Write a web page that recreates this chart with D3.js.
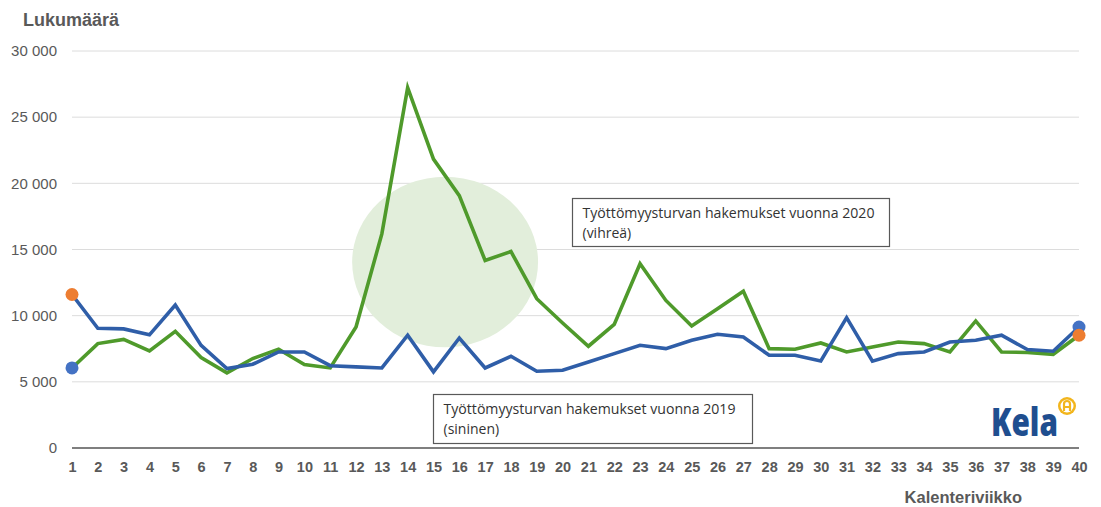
<!DOCTYPE html>
<html>
<head>
<meta charset="utf-8">
<script src="https://cdn.jsdelivr.net/npm/d3@7/dist/d3.min.js"></script>
<style>
  html, body { margin: 0; padding: 0; background: #fff; }
  svg { display: block; }
</style>
</head>
<body>
<svg id="chart" width="1101" height="507"></svg>
<script>
const weeks = d3.range(1, 41);
const values2019 = [11600, 9050, 9000, 8550, 10800, 7750, 6000, 6330, 7260, 7260,
  6220, 6130, 6050, 8520, 5750, 8310, 6050, 6930, 5800, 5880,
  6500, 7130, 7760, 7510, 8140, 8590, 8390, 7010, 7010, 6580,
  9850, 6560, 7130, 7260, 8010, 8140, 8520, 7440, 7310, 9140];
const values2020 = [6050, 7890, 8210, 7330, 8820, 6830, 5680, 6760, 7460, 6310,
  6050, 9140, 16180, 27230, 21830, 19070, 14170, 14850, 11280, 9450,
  7690, 9340, 13920, 11150, 9220, 10530, 11850, 7510, 7460, 7940,
  7260, 7640, 8010, 7890, 7260, 9600, 7260, 7220, 7080, 8520];
const yTicks = [0, 5000, 10000, 15000, 20000, 25000, 30000];
const yTitle = "Lukumäärä";
const xTitle = "Kalenteriviikko";
const note2020 = ["Työttömyysturvan hakemukset vuonna 2020", "(vihreä)"];
const note2019 = ["Työttömyysturvan hakemukset vuonna 2019", "(sininen)"];

const svg = d3.select("#chart");
const x = d3.scaleLinear().domain([1, 40]).range([72, 1079]);
const y = d3.scaleLinear().domain([0, 30000]).range([448, 51]);
const grey = "#595959";
const fmt = v => d3.format(",")(v).replace(/,/g, " ");

// gridlines
svg.append("g").selectAll("line").data(yTicks.filter(d => d > 0)).join("line")
  .attr("x1", x(1)).attr("x2", x(40))
  .attr("y1", d => y(d)).attr("y2", d => y(d))
  .attr("stroke", "#dcdcdc").attr("stroke-width", 1);

// highlight ellipse
svg.append("ellipse")
  .attr("cx", x(15.45)).attr("cy", y(14050))
  .attr("rx", x(1 + 3.6) - x(1)).attr("ry", y(0) - y(6440))
  .attr("fill", "#e2eedb");

// y axis labels
const yAxis = d3.axisLeft(y).tickValues(yTicks).tickFormat(fmt).tickSize(0).tickPadding(0);
const gy = svg.append("g").attr("transform", "translate(57,0)").call(yAxis);
gy.select(".domain").remove();
gy.selectAll("text").attr("font-family", "Liberation Sans, Arial, sans-serif")
  .attr("font-size", 15).attr("fill", grey);

// x axis
const xAxis = d3.axisBottom(x).tickValues(weeks).tickFormat(d3.format("d")).tickSize(0).tickPadding(0);
const gx = svg.append("g").attr("transform", "translate(0,462)").call(xAxis);
gx.select(".domain").remove();
gx.selectAll("text").attr("font-family", "Liberation Sans, Arial, sans-serif")
  .attr("font-size", 14.5).attr("font-weight", "bold").attr("fill", grey);

// baseline
svg.append("line").attr("x1", x(1)).attr("x2", x(40)).attr("y1", y(0)).attr("y2", y(0))
  .attr("stroke", "#7f7f7f").attr("stroke-width", 2);

// lines
const line = d3.line().x((d, i) => x(weeks[i])).y(d => y(d));
svg.append("path").datum(values2020).attr("d", line)
  .attr("fill", "none").attr("stroke", "#4f9a2b").attr("stroke-width", 3.6)
  .attr("stroke-linejoin", "miter");
svg.append("path").datum(values2019).attr("d", line)
  .attr("fill", "none").attr("stroke", "#2f5ea8").attr("stroke-width", 3.6)
  .attr("stroke-linejoin", "miter");

// end markers
const markers = [
  { w: 1, v: values2019[0], c: "#ed7d31" },
  { w: 1, v: values2020[0], c: "#4472c4" },
  { w: 40, v: values2019[39], c: "#4472c4" },
  { w: 40, v: values2020[39], c: "#ed7d31" }
];
svg.append("g").selectAll("circle").data(markers).join("circle")
  .attr("cx", d => x(d.w)).attr("cy", d => y(d.v)).attr("r", 6.5).attr("fill", d => d.c);

// annotation boxes
function note(lines, x0, y0, w, h) {
  const g = svg.append("g");
  g.append("rect").attr("x", x0).attr("y", y0).attr("width", w).attr("height", h)
    .attr("fill", "#fff").attr("stroke", "#595959").attr("stroke-width", 1.2);
  g.selectAll("text").data(lines).join("text")
    .attr("x", x0 + 10).attr("y", (d, i) => y0 + 19 + i * 20)
    .attr("font-family", "Open Sans, sans-serif").attr("font-size", 14).attr("fill", "#333")
    .text(d => d)
    .each(function (d, i) { if (i === 0) d3.select(this).attr("textLength", 292).attr("lengthAdjust", "spacingAndGlyphs"); });
}
note(note2020, 572.5, 198.5, 317, 48);
note(note2019, 433.5, 394.5, 319, 49);

// titles
svg.append("text").attr("x", 23).attr("y", 26).text(yTitle)
  .attr("font-family", "Liberation Sans, Arial, sans-serif").attr("font-size", 18)
  .attr("font-weight", "bold").attr("fill", grey);
svg.append("text").attr("x", 1022).attr("y", 503).attr("text-anchor", "end").text(xTitle)
  .attr("font-family", "Liberation Sans, Arial, sans-serif").attr("font-size", 16.5)
  .attr("font-weight", "bold").attr("fill", grey);

// Kela logo
svg.append("text").attr("x", 991).attr("y", 436).text("Kela")
  .attr("font-family", "Open Sans, sans-serif").attr("font-size", 39).attr("font-weight", "800")
  .attr("fill", "#1f4e8f").attr("textLength", 67).attr("lengthAdjust", "spacingAndGlyphs");
const lg = svg.append("g").attr("transform", "translate(1067,406)");
lg.append("circle").attr("r", 9).attr("fill", "#f2b51c");
lg.append("circle").attr("r", 6.5).attr("fill", "#fff");
lg.append("path").attr("d", "M-3,5 V-2 A3,3 0 0 1 3,-2 V5 M-3,1 H3").attr("fill", "none")
  .attr("stroke", "#f2b51c").attr("stroke-width", 2.2);
</script>
</body>
</html>
